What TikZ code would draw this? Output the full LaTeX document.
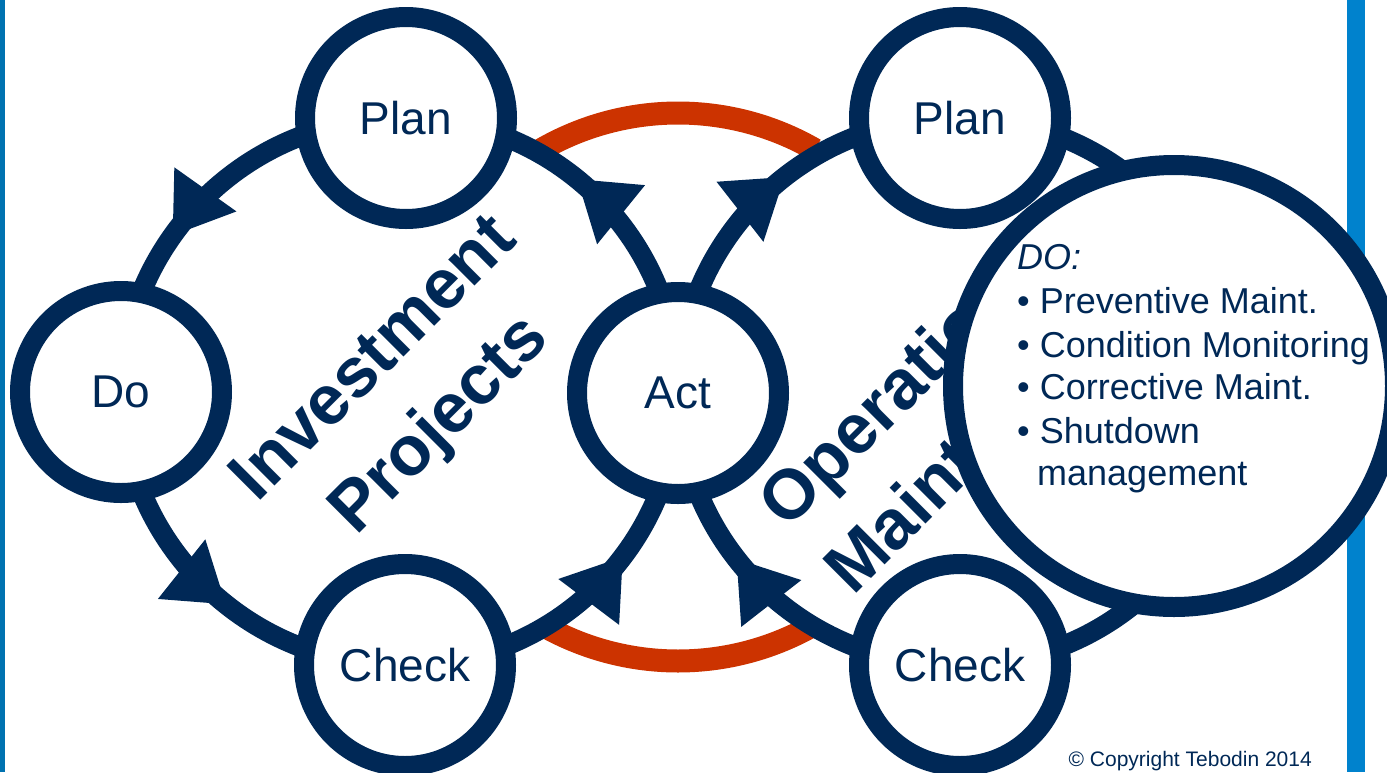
\documentclass[tikz,border=0pt]{standalone}
\usepackage{fontspec}
\setmainfont{Liberation Sans}
\usetikzlibrary{arrows.meta,decorations.markings}
\definecolor{tnavy}{RGB}{0,40,86}
\definecolor{tred}{RGB}{204,51,0}
\definecolor{barL}{RGB}{0,114,176}
\definecolor{barR}{RGB}{0,130,205}
\pgfdeclarelayer{bg}
\pgfsetlayers{bg,main}
\tikzset{
  pdca/.style={circle, draw=tnavy, line width=20pt, fill=white, minimum size=202pt,
    inner sep=0pt, text=tnavy, font=\fontsize{46}{50}\selectfont},
  bigdo/.style={circle, draw=tnavy, line width=20pt, fill=white, minimum size=442pt, inner sep=0pt},
  cyc/.style={draw=tnavy, line width=20pt},
  midarrow/.style={postaction=decorate, decoration={markings,
    mark=at position #1 with {\arrow{Triangle[length=57pt,width=72pt]}}}},
  redarc/.style={draw=tred, line width=23pt},
  bigtext/.style={text=tnavy, font=\fontsize{70}{93}\selectfont\bfseries, inner sep=0pt},
  dotext/.style={text=tnavy, font=\fontsize{36}{40}\selectfont, anchor=base west, inner sep=0pt},
  copytext/.style={text=tnavy, font=\fontsize{21}{24}\selectfont, anchor=base east, inner sep=0pt}
}
\begin{document}
\begin{tikzpicture}[x=1pt,y=1pt]
\path[use as bounding box] (0,0) rectangle (1387,-772);
\clip (0,0) rectangle (1387,-772);

% text (under circles)
\node[bigtext, align=center, rotate=45] (invest) at (409,-394) {Investment\\Projects};
\node[bigtext, align=left, rotate=45] (oper) at (953,-396) {Operations\\Maintenance};

% PDCA circles
\node[pdca] (lplan) at (406,-118) {Plan};
\node[pdca] (ldo) at (121,-392) {Do};
\node[pdca] (lcheck) at (405,-665) {Check};
\node[pdca] (act) at (678,-393) {Act};
\node[pdca] (rplan) at (960,-118) {Plan};
\node[pdca] (rcheck) at (960,-665) {Check};
\coordinate (rE) at (1236,-393);
\coordinate (rc) at (678,-387);

\begin{pgfonlayer}{bg}
  \fill[barL] (0,0) rectangle (5,-772);
  \fill[barR] (1347,0) rectangle (1365,-772);
  \draw[redarc] ([shift={(60:274)}]rc) arc[start angle=60, end angle=120, radius=274];
  \draw[redarc] ([shift={(240:274)}]rc) arc[start angle=240, end angle=300, radius=274];
  % left cycle
  \draw[cyc, midarrow=0.62] (lplan.center) to[bend right=45] (ldo.center);
  \draw[cyc, midarrow=0.56] (ldo.center) to[bend right=45] (lcheck.center);
  \draw[cyc, midarrow=0.59] (lcheck.center) to[bend right=45] (act.center);
  \draw[cyc, midarrow=0.57] (act.center) to[bend right=45] (lplan.center);
  % right cycle
  \draw[cyc, midarrow=0.57] (act.center) to[bend left=45] (rplan.center);
  \draw[cyc] (rplan.center) to[bend left=45] (rE);
  \draw[cyc] (rE) to[bend left=45] (rcheck.center);
  \draw[cyc, midarrow=0.59] (rcheck.center) to[bend left=45] (act.center);
\end{pgfonlayer}

% big DO circle
\node[bigdo] (bdo) at (1174,-386) {};
\node[dotext] (t0) at (1017,-269) {\itshape DO:};
\node[dotext] (t1) at (1017,-313) {\textbullet\ Preventive Maint.};
\node[dotext] (t2) at (1017,-357) {\textbullet\ Condition Monitoring};
\node[dotext] (t3) at (1017,-399) {\textbullet\ Corrective Maint.};
\node[dotext] (t4) at (1017,-443) {\textbullet\ Shutdown};
\node[dotext] (t5) at (1037,-485) {management};

\node[copytext] (copy) at (1312,-766) {© Copyright Tebodin 2014};
\end{tikzpicture}
\end{document}
